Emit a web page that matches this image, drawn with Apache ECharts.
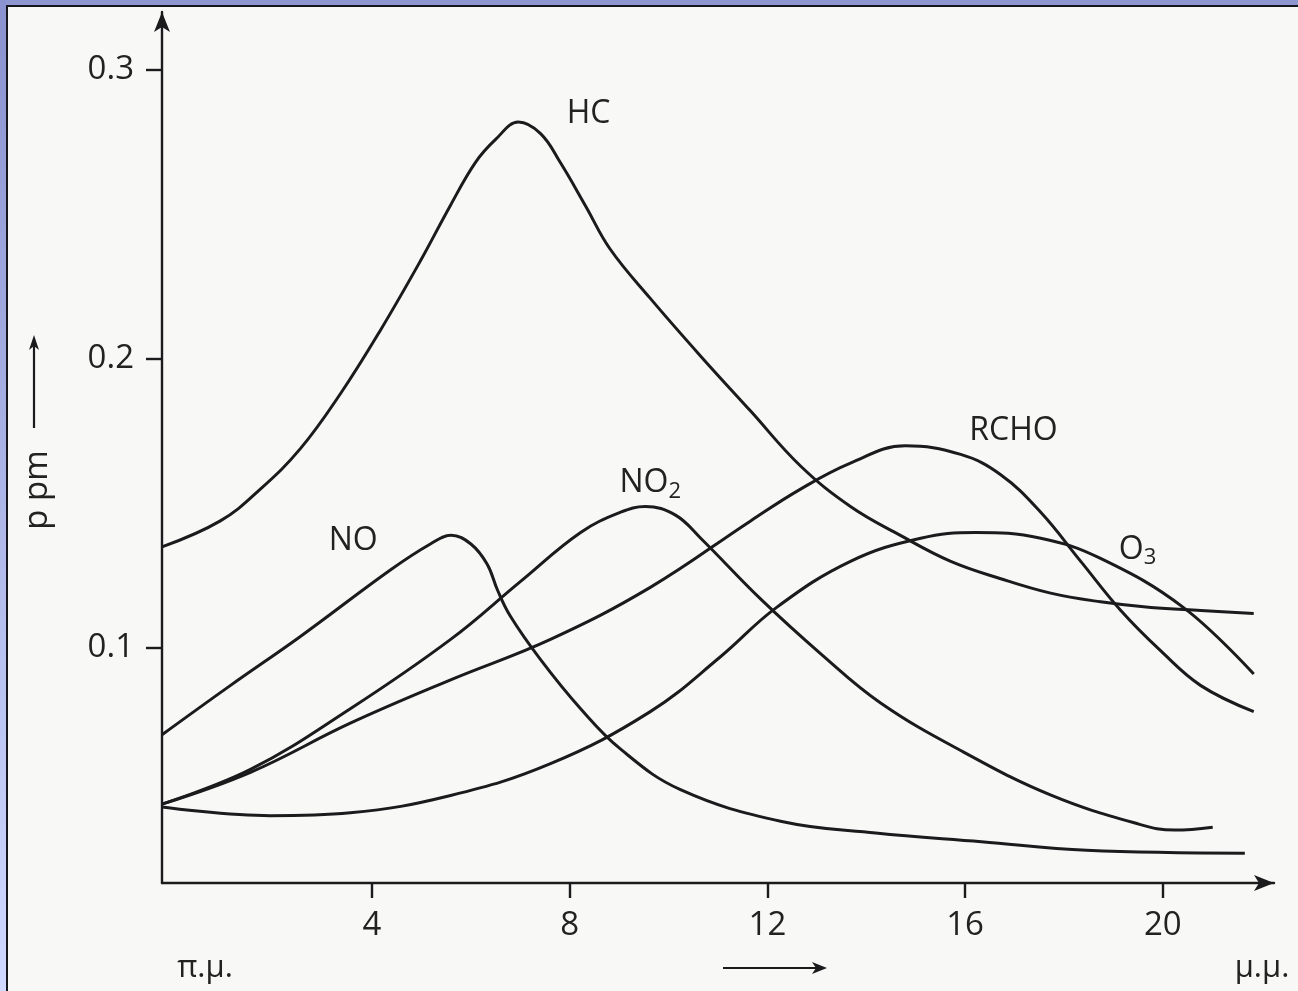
<!DOCTYPE html>
<html>
<head>
<meta charset="utf-8">
<title>p pm</title>
<script src="https://cdn.jsdelivr.net/npm/echarts@6.0.0/dist/echarts.min.js"></script>
<style>
  html, body { margin: 0; padding: 0; width: 1298px; height: 991px; overflow: hidden; background: #f8f9f6; }
  #chart { position: absolute; left: 0; top: 0; width: 1298px; height: 991px; }
  .band-top { position: absolute; left: 0; top: 0; width: 1298px; height: 5px; background: #8f97d0; }
  .rule-top { position: absolute; left: 6px; top: 5px; width: 1292px; height: 2px; background: #15151c; }
  .band-left { position: absolute; left: 0; top: 0; width: 6px; height: 991px; background: linear-gradient(#8a92cf, #cfd9ff); }
  .rule-left { position: absolute; left: 6px; top: 5px; width: 2px; height: 986px; background: #15151c; }
</style>
</head>
<body>
<div id="chart"></div>
<div class="band-top"></div>
<div class="band-left"></div>
<div class="rule-top"></div>
<div class="rule-left"></div>
<script>
// Time of day (hours) and concentration (ppm) for each pollutant curve
const hcX   = [-0.25, 0.93, 1.74, 2.55, 3.36, 4.17, 4.98, 5.58, 6.09, 6.5, 6.96, 7.41, 7.81, 8.32, 8.82, 9.63, 10.65, 11.66, 12.67, 13.68, 14.69, 15.71, 16.72, 17.73, 18.74, 19.76, 20.77, 21.84];
const hcY   = [0.135, 0.144, 0.155, 0.169, 0.188, 0.210, 0.234, 0.253, 0.268, 0.276, 0.282, 0.278, 0.268, 0.253, 0.238, 0.221, 0.201, 0.182, 0.163, 0.149, 0.139, 0.130, 0.124, 0.119, 0.116, 0.114, 0.113, 0.112];

const noX   = [-0.25, 1.13, 2.55, 4.37, 5.18, 5.6, 6.0, 6.33, 6.54, 6.8, 7.41, 8.22, 9.03, 10.24, 12.29, 14.19, 16.33, 18.46, 21.66];
const noY   = [0.070, 0.087, 0.104, 0.127, 0.136, 0.139, 0.136, 0.129, 0.120, 0.111, 0.096, 0.079, 0.065, 0.051, 0.040, 0.036, 0.033, 0.030, 0.029];

const no2X  = [-0.25, 1.54, 3.56, 5.59, 7.0, 8.22, 9.03, 9.53, 10.14, 10.65, 11.86, 13.08, 14.29, 15.97, 17.75, 19.53, 20.24, 21.01];
const no2Y  = [0.046, 0.058, 0.079, 0.103, 0.123, 0.140, 0.147, 0.149, 0.146, 0.138, 0.117, 0.098, 0.081, 0.064, 0.049, 0.039, 0.037, 0.038];

const rchoX = [-0.25, 1.54, 3.56, 5.59, 7.61, 9.63, 11.66, 12.67, 13.68, 14.79, 15.91, 16.72, 17.53, 18.34, 19.15, 19.96, 20.77, 21.84];
const rchoY = [0.046, 0.057, 0.074, 0.089, 0.103, 0.121, 0.144, 0.155, 0.164, 0.170, 0.167, 0.160, 0.147, 0.130, 0.113, 0.099, 0.087, 0.078];

const o3X   = [-0.25, 1.94, 3.56, 5.59, 7.61, 9.63, 11.05, 12.18, 13.68, 15.1, 16.21, 17.53, 18.74, 20.42, 21.84];
const o3Y   = [0.045, 0.042, 0.043, 0.049, 0.060, 0.078, 0.097, 0.114, 0.130, 0.138, 0.140, 0.138, 0.131, 0.114, 0.091];

// Axis ticks
const xTicks = [4, 8, 12, 16, 20];
const yTicks = [0.1, 0.2, 0.3];

// Curve names and where each name is written (data coordinates)
const curveNames = ['HC', 'NO', 'NO{s|2}', 'RCHO', 'O{s|3}'];
const nameAt = [[8.38, 0.285], [3.62, 0.137], [9.63, 0.157], [16.98, 0.175], [19.49, 0.134]];

const ink = '#1b1b1d';
const font = '"Open Sans", "DejaVu Sans", sans-serif';

function pairs(xs, ys) { return xs.map((x, i) => [x, ys[i]]); }

const curves = [pairs(hcX, hcY), pairs(noX, noY), pairs(no2X, no2Y), pairs(rchoX, rchoY), pairs(o3X, o3Y)];

const series = curves.map((d, i) => ({
  type: 'line',
  data: d,
  smooth: 0.4,
  showSymbol: false,
  symbol: 'none',
  lineStyle: { color: ink, width: 3 },
  silent: true,
  markPoint: {
    symbol: 'circle',
    symbolSize: 1,
    itemStyle: { color: 'rgba(0,0,0,0)' },
    data: [{
      coord: nameAt[i],
      label: {
        show: true,
        position: 'inside',
        formatter: curveNames[i],
        color: '#222',
        fontFamily: font,
        fontSize: 32,
        lineHeight: 38,
        rich: {
          s: { fontFamily: font, fontSize: 22, verticalAlign: 'bottom', lineHeight: 38, padding: [16, 0, 0, 0], color: '#222' }
        }
      }
    }]
  }
}));

const chart = echarts.init(document.getElementById('chart'), null, { renderer: 'canvas' });

chart.setOption({
  backgroundColor: 'transparent',
  animation: false,
  grid: { left: 162, right: 24, top: 12, bottom: 108, containLabel: false },
  xAxis: {
    type: 'value',
    min: -0.25,
    max: 22.25,
    splitLine: { show: false },
    axisLine: { show: true, onZero: false, lineStyle: { color: ink, width: 2.4 }, symbol: ['none', 'arrow'], symbolSize: [12, 20] },
    axisTick: { show: true, customValues: xTicks, length: 15, inside: false, lineStyle: { color: ink, width: 2.4 } },
    axisLabel: { show: true, customValues: xTicks, margin: 26, color: '#222', fontFamily: font, fontSize: 33 }
  },
  yAxis: {
    type: 'value',
    min: 0.0187,
    max: 0.3201,
    splitLine: { show: false },
    axisLine: { show: true, onZero: false, lineStyle: { color: ink, width: 2.4 }, symbol: ['none', 'arrow'], symbolSize: [12, 20] },
    axisTick: { show: true, customValues: yTicks, length: 16, lineStyle: { color: ink, width: 2.4 } },
    axisLabel: { show: true, customValues: yTicks, margin: 28, color: '#222', fontFamily: font, fontSize: 33,
      formatter: v => v.toFixed(1) }
  },
  graphic: [
    // y-axis unit with arrow pointing up
    { type: 'text', x: 38, y: 490, rotation: Math.PI / 2,
      style: { text: 'p pm', fill: '#222', font: '33px ' + font, align: 'center', verticalAlign: 'middle' } },
    { type: 'line', shape: { x1: 34, y1: 428, x2: 34, y2: 342 }, style: { stroke: ink, lineWidth: 2.2 } },
    { type: 'polygon', shape: { points: [[34, 335], [29, 350], [34, 346], [39, 350]] }, style: { fill: ink } },
    // x-axis end notes and direction arrow
    { type: 'text', x: 205, y: 968, style: { text: 'π.μ.', fill: '#222', font: '31px ' + font, align: 'center', verticalAlign: 'middle' } },
    { type: 'text', x: 1262, y: 968, style: { text: 'μ.μ.', fill: '#222', font: '31px ' + font, align: 'center', verticalAlign: 'middle' } },
    { type: 'line', shape: { x1: 723, y1: 968, x2: 820, y2: 968 }, style: { stroke: ink, lineWidth: 2.2 } },
    { type: 'polygon', shape: { points: [[827, 968], [812, 962], [816, 968], [812, 974]] }, style: { fill: ink } }
  ],
  series: series
});
</script>
</body>
</html>
